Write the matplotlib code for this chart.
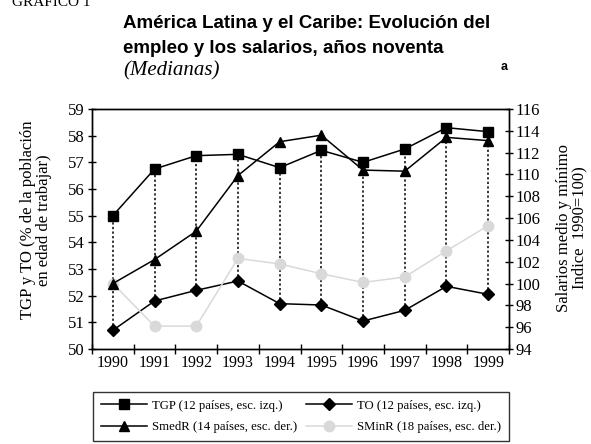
import matplotlib
matplotlib.use('Agg')
import matplotlib.pyplot as plt
from matplotlib.lines import Line2D

years = ['1990', '1991', '1992', '1993', '1994', '1995', '1996', '1997', '1998', '1999']
tgp = [55.0, 56.75, 57.25, 57.3, 56.8, 57.45, 57.0, 57.5, 58.3, 58.15]
to = [50.7, 51.8, 52.2, 52.55, 51.7, 51.65, 51.05, 51.45, 52.35, 52.05]
smedr = [100.0, 102.2, 104.8, 109.9, 113.0, 113.6, 110.4, 110.3, 113.4, 113.1]
sminr = [100.0, 96.1, 96.1, 102.3, 101.8, 100.9, 100.1, 100.6, 103.0, 105.3]

SERIF = ['Liberation Serif', 'DejaVu Serif']
SANS = ['Liberation Sans', 'DejaVu Sans']
GREY = '#d9d9d9'
W, H = 591, 444


def fx(px):
    return px / W


def fy(py):
    # pixel row measured from the top -> figure fraction
    return 1 - py / H


plt.rcParams['font.family'] = SERIF
plt.rcParams['axes.linewidth'] = 1.0

fig = plt.figure(figsize=(W / 100, H / 100), dpi=100)
ax = fig.add_axes([fx(92), fy(349), fx(417), 240 / H])
ax2 = ax.twinx()

xs = list(range(len(years)))

# high-low lines between TGP and TO
ax.vlines(xs, to, tgp, colors='black', linestyles=(0, (1.5, 1.5)), linewidth=1.1, zorder=1)
ax.plot(xs, tgp, color='black', lw=1.1, marker='s', ms=6.5, zorder=3)
ax.plot(xs, to, color='black', lw=1.1, marker='D', ms=6.5, zorder=3)
ax2.plot(xs, sminr, color=GREY, lw=1.1, marker='o', ms=7.5, zorder=2)
ax2.plot(xs, smedr, color='black', lw=1.1, marker='^', ms=7, zorder=3)

ax.set_xlim(-0.5, 9.5)
ax.set_ylim(50, 59)
ax2.set_ylim(94, 116)
ax.set_yticks(range(50, 60))
ax2.set_yticks(range(94, 117, 2))
ax.set_xticks(xs)
ax.set_xticklabels(years)
ax.set_xticks([x - 0.5 for x in range(11)], minor=True)
ax.tick_params(axis='x', which='major', length=0, labelsize=11.5, pad=4)
ax.tick_params(axis='x', which='minor', direction='inout', length=7, width=1)
ax.tick_params(axis='y', direction='inout', length=6, width=1, labelsize=12, pad=2)
ax2.tick_params(axis='y', direction='inout', length=6, width=1, labelsize=12, pad=2)

fig.text(fx(36), fy(220), 'TGP y TO (% de la población\nen edad de trabajar)', fontsize=12,
         rotation=90, ha='center', va='center', multialignment='center', linespacing=0.95)
fig.text(fx(572), fy(228), 'Salarios medio y mínimo\nIndice  1990=100)', fontsize=12,
         rotation=90, ha='center', va='center', multialignment='center', linespacing=0.95)

fig.text(fx(12), fy(6), 'GRAFICO 1', fontsize=11, ha='left', va='baseline')
fig.text(fx(123), fy(28), 'América Latina y el Caribe: Evolución del',
         family=SANS, fontsize=13.5, fontweight='bold', ha='left', va='baseline')
fig.text(fx(123), fy(53), 'empleo y los salarios, años noventa',
         family=SANS, fontsize=13.5, fontweight='bold', ha='left', va='baseline')
fig.text(fx(501), fy(70), 'a', family=SANS, fontsize=9, fontweight='bold', ha='left', va='baseline')
fig.text(fx(123), fy(75), '(Medianas)', fontsize=15, style='italic', ha='left', va='baseline')

handles = [
    Line2D([], [], color='black', lw=1.1, marker='s', ms=6.5),
    Line2D([], [], color='black', lw=1.1, marker='^', ms=7),
    Line2D([], [], color='black', lw=1.1, marker='D', ms=6.5),
    Line2D([], [], color=GREY, lw=1.1, marker='o', ms=7.5),
]
labels = ['TGP (12 países, esc. izq.)', 'SmedR (14 países, esc. der.)',
          'TO (12 países, esc. izq.)', 'SMinR (18 países, esc. der.)']
leg = fig.legend(handles, labels, ncol=2, loc='lower left',
                 bbox_to_anchor=(fx(93), 3 / H, fx(416), 52 / H), mode='expand',
                 fontsize=9.2, frameon=True, fancybox=False, edgecolor='black',
                 handlelength=3.6, handletextpad=0.4, columnspacing=0.8,
                 labelspacing=0.75, borderpad=0.6, borderaxespad=0)
leg.get_frame().set_linewidth(1.0)

fig.savefig('out.png', dpi=100)
